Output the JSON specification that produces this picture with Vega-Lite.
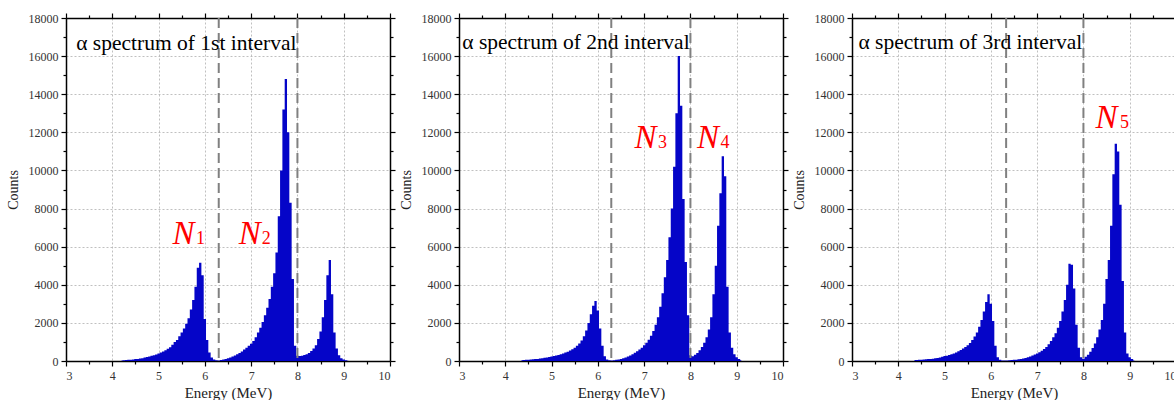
{
  "$schema": "https://vega.github.io/schema/vega-lite/v6.json",
  "padding": {"left": 6, "top": 12, "right": 0, "bottom": 0},
  "background": "white",
  "config": {
    "view": {"stroke": null},
    "axis": {
      "domainColor": "#000", "domainWidth": 1.5, "tickColor": "#000", "tickWidth": 1.2,
      "gridColor": "#b0b0b0", "gridDash": [2, 2], "gridWidth": 0.8
    }
  },
  "datasets": {
    "p1": [
      {"e":4.20,"c":30},{"e":4.25,"c":40},{"e":4.30,"c":50},{"e":4.35,"c":60},{"e":4.40,"c":70},{"e":4.45,"c":80},{"e":4.50,"c":100},{"e":4.55,"c":110},{"e":4.60,"c":130},{"e":4.65,"c":150},{"e":4.70,"c":180},{"e":4.75,"c":210},{"e":4.80,"c":240},{"e":4.85,"c":270},{"e":4.90,"c":300},{"e":4.95,"c":340},{"e":5.00,"c":400},{"e":5.05,"c":440},{"e":5.10,"c":500},{"e":5.15,"c":560},{"e":5.20,"c":640},{"e":5.25,"c":720},{"e":5.30,"c":850},{"e":5.35,"c":1000},{"e":5.40,"c":1100},{"e":5.45,"c":1300},{"e":5.50,"c":1500},{"e":5.55,"c":1700},{"e":5.60,"c":1950},{"e":5.65,"c":2250},{"e":5.70,"c":2700},{"e":5.75,"c":3200},{"e":5.80,"c":3900},{"e":5.85,"c":4900},{"e":5.90,"c":5150},{"e":5.95,"c":4500},{"e":6.00,"c":2200},{"e":6.05,"c":1100},{"e":6.10,"c":450},{"e":6.15,"c":180},{"e":6.20,"c":80},{"e":6.25,"c":40},{"e":6.30,"c":20},{"e":6.35,"c":50},{"e":6.40,"c":80},{"e":6.45,"c":110},{"e":6.50,"c":150},{"e":6.55,"c":190},{"e":6.60,"c":230},{"e":6.65,"c":290},{"e":6.70,"c":350},{"e":6.75,"c":420},{"e":6.80,"c":500},{"e":6.85,"c":600},{"e":6.90,"c":700},{"e":6.95,"c":800},{"e":7.00,"c":900},{"e":7.05,"c":1050},{"e":7.10,"c":1250},{"e":7.15,"c":1500},{"e":7.20,"c":1750},{"e":7.25,"c":2050},{"e":7.30,"c":2400},{"e":7.35,"c":2800},{"e":7.40,"c":3250},{"e":7.45,"c":3900},{"e":7.50,"c":4600},{"e":7.55,"c":5700},{"e":7.60,"c":7600},{"e":7.65,"c":10000},{"e":7.70,"c":13200},{"e":7.75,"c":14800},{"e":7.80,"c":12000},{"e":7.85,"c":8300},{"e":7.90,"c":4300},{"e":7.95,"c":800},{"e":8.00,"c":280},{"e":8.05,"c":260},{"e":8.10,"c":280},{"e":8.15,"c":310},{"e":8.20,"c":350},{"e":8.25,"c":420},{"e":8.30,"c":520},{"e":8.35,"c":650},{"e":8.40,"c":820},{"e":8.45,"c":1150},{"e":8.50,"c":1550},{"e":8.55,"c":2300},{"e":8.60,"c":3200},{"e":8.65,"c":4500},{"e":8.70,"c":5300},{"e":8.75,"c":3500},{"e":8.80,"c":1500},{"e":8.85,"c":650},{"e":8.90,"c":300},{"e":8.95,"c":150},{"e":9.00,"c":80},{"e":9.05,"c":40},{"e":9.10,"c":10}
    ],
    "p2": [
      {"e":4.35,"c":40},{"e":4.40,"c":50},{"e":4.45,"c":60},{"e":4.50,"c":70},{"e":4.55,"c":80},{"e":4.60,"c":90},{"e":4.65,"c":100},{"e":4.70,"c":110},{"e":4.75,"c":130},{"e":4.80,"c":150},{"e":4.85,"c":170},{"e":4.90,"c":190},{"e":4.95,"c":210},{"e":5.00,"c":240},{"e":5.05,"c":260},{"e":5.10,"c":290},{"e":5.15,"c":320},{"e":5.20,"c":360},{"e":5.25,"c":400},{"e":5.30,"c":440},{"e":5.35,"c":490},{"e":5.40,"c":550},{"e":5.45,"c":620},{"e":5.50,"c":700},{"e":5.55,"c":800},{"e":5.60,"c":920},{"e":5.65,"c":1080},{"e":5.70,"c":1300},{"e":5.75,"c":1600},{"e":5.80,"c":2000},{"e":5.85,"c":2450},{"e":5.90,"c":2900},{"e":5.95,"c":3150},{"e":6.00,"c":2650},{"e":6.05,"c":1700},{"e":6.10,"c":800},{"e":6.15,"c":250},{"e":6.20,"c":80},{"e":6.25,"c":40},{"e":6.30,"c":30},{"e":6.35,"c":40},{"e":6.40,"c":60},{"e":6.45,"c":80},{"e":6.50,"c":110},{"e":6.55,"c":140},{"e":6.60,"c":180},{"e":6.65,"c":230},{"e":6.70,"c":290},{"e":6.75,"c":360},{"e":6.80,"c":430},{"e":6.85,"c":510},{"e":6.90,"c":600},{"e":6.95,"c":700},{"e":7.00,"c":820},{"e":7.05,"c":960},{"e":7.10,"c":1120},{"e":7.15,"c":1320},{"e":7.20,"c":1580},{"e":7.25,"c":1900},{"e":7.30,"c":2300},{"e":7.35,"c":2850},{"e":7.40,"c":3550},{"e":7.45,"c":4400},{"e":7.50,"c":5300},{"e":7.55,"c":6500},{"e":7.60,"c":8000},{"e":7.65,"c":10200},{"e":7.70,"c":13000},{"e":7.75,"c":16000},{"e":7.80,"c":13400},{"e":7.85,"c":8500},{"e":7.90,"c":5200},{"e":7.95,"c":2400},{"e":8.00,"c":300},{"e":8.05,"c":250},{"e":8.10,"c":330},{"e":8.15,"c":420},{"e":8.20,"c":560},{"e":8.25,"c":740},{"e":8.30,"c":960},{"e":8.35,"c":1250},{"e":8.40,"c":1650},{"e":8.45,"c":2300},{"e":8.50,"c":3500},{"e":8.55,"c":5000},{"e":8.60,"c":7100},{"e":8.65,"c":8800},{"e":8.70,"c":10750},{"e":8.75,"c":9700},{"e":8.80,"c":3900},{"e":8.85,"c":1500},{"e":8.90,"c":700},{"e":8.95,"c":350},{"e":9.00,"c":200},{"e":9.05,"c":100},{"e":9.10,"c":40}
    ],
    "p3": [
      {"e":4.35,"c":50},{"e":4.40,"c":55},{"e":4.45,"c":60},{"e":4.50,"c":70},{"e":4.55,"c":80},{"e":4.60,"c":90},{"e":4.65,"c":100},{"e":4.70,"c":110},{"e":4.75,"c":120},{"e":4.80,"c":140},{"e":4.85,"c":160},{"e":4.90,"c":180},{"e":4.95,"c":220},{"e":5.00,"c":260},{"e":5.05,"c":280},{"e":5.10,"c":310},{"e":5.15,"c":350},{"e":5.20,"c":400},{"e":5.25,"c":450},{"e":5.30,"c":510},{"e":5.35,"c":580},{"e":5.40,"c":660},{"e":5.45,"c":740},{"e":5.50,"c":830},{"e":5.55,"c":950},{"e":5.60,"c":1100},{"e":5.65,"c":1280},{"e":5.70,"c":1500},{"e":5.75,"c":1800},{"e":5.80,"c":2150},{"e":5.85,"c":2600},{"e":5.90,"c":3100},{"e":5.95,"c":3500},{"e":6.00,"c":3000},{"e":6.05,"c":2100},{"e":6.10,"c":800},{"e":6.15,"c":200},{"e":6.20,"c":60},{"e":6.25,"c":30},{"e":6.30,"c":20},{"e":6.35,"c":30},{"e":6.40,"c":40},{"e":6.45,"c":50},{"e":6.50,"c":60},{"e":6.55,"c":70},{"e":6.60,"c":90},{"e":6.65,"c":110},{"e":6.70,"c":130},{"e":6.75,"c":160},{"e":6.80,"c":200},{"e":6.85,"c":240},{"e":6.90,"c":290},{"e":6.95,"c":340},{"e":7.00,"c":400},{"e":7.05,"c":460},{"e":7.10,"c":540},{"e":7.15,"c":630},{"e":7.20,"c":740},{"e":7.25,"c":880},{"e":7.30,"c":1050},{"e":7.35,"c":1250},{"e":7.40,"c":1450},{"e":7.45,"c":1750},{"e":7.50,"c":2100},{"e":7.55,"c":2600},{"e":7.60,"c":3200},{"e":7.65,"c":4000},{"e":7.70,"c":5100},{"e":7.75,"c":5050},{"e":7.80,"c":3800},{"e":7.85,"c":1900},{"e":7.90,"c":700},{"e":7.95,"c":200},{"e":8.00,"c":120},{"e":8.05,"c":220},{"e":8.10,"c":330},{"e":8.15,"c":480},{"e":8.20,"c":680},{"e":8.25,"c":920},{"e":8.30,"c":1250},{"e":8.35,"c":1650},{"e":8.40,"c":2150},{"e":8.45,"c":3000},{"e":8.50,"c":4300},{"e":8.55,"c":5300},{"e":8.60,"c":7100},{"e":8.65,"c":9800},{"e":8.70,"c":11400},{"e":8.75,"c":11000},{"e":8.80,"c":8200},{"e":8.85,"c":4200},{"e":8.90,"c":1500},{"e":8.95,"c":400},{"e":9.00,"c":200},{"e":9.05,"c":100},{"e":9.10,"c":30}
    ]
  },
  "hconcat": [
    {
      "width": 324, "height": 343,
      "resolve": {"axis": {"x": "independent", "y": "independent"}},
      "layer": [
        {"data": {"name": "p1"}, "mark": {"type": "area", "interpolate": "step", "color": "#0505C8"},
         "encoding": {
           "x": {"field": "e", "type": "quantitative", "scale": {"domain": [3, 10], "nice": false},
             "axis": {"title": "Energy (MeV)", "values": [3,3.5,4,4.5,5,5.5,6,6.5,7,7.5,8,8.5,9,9.5,10], "labelExpr": "datum.value % 1 === 0 ? format(datum.value, 'd') : ''", "tickSize": {"condition": {"test": "datum.value % 1 !== 0", "value": 3}, "value": 5}, "gridOpacity": {"condition": {"test": "datum.value % 1 !== 0", "value": 0}, "value": 1}, "labelPadding": 4, "titlePadding": 4, "labelFont": "Liberation Serif", "labelFontSize": 12, "labelColor": "#333", "titleFont": "Liberation Serif", "titleFontSize": 15, "titleFontWeight": "normal", "titleColor": "#222"}},
           "y": {"field": "c", "type": "quantitative", "scale": {"domain": [0, 18000], "nice": false},
             "axis": {"title": "Counts", "values": [0,1000,2000,3000,4000,5000,6000,7000,8000,9000,10000,11000,12000,13000,14000,15000,16000,17000,18000], "labelExpr": "datum.value % 2000 === 0 ? format(datum.value, 'd') : ''", "tickSize": {"condition": {"test": "datum.value % 2000 !== 0", "value": 3}, "value": 5}, "gridOpacity": {"condition": {"test": "datum.value % 2000 !== 0", "value": 0}, "value": 1}, "labelPadding": 3, "titlePadding": 8, "labelFont": "Liberation Serif", "labelFontSize": 12, "labelColor": "#333", "titleFont": "Liberation Serif", "titleFontSize": 14, "titleFontWeight": "normal", "titleColor": "#222"}}
         }},
        {"data": {"values": [{"e": 6.3}, {"e": 8.0}]}, "mark": {"type": "rule", "color": "#808080", "strokeDash": [10, 5], "strokeWidth": 2},
         "encoding": {"x": {"field": "e", "type": "quantitative", "axis": {"orient": "top", "title": null, "labels": false, "grid": false, "values": [3,3.5,4,4.5,5,5.5,6,6.5,7,7.5,8,8.5,9,9.5,10], "tickSize": {"condition": {"test": "datum.value % 1 !== 0", "value": 3}, "value": 5}}}}},
        {"data": {"values": [{"e": 3.22, "c": 16340, "t": "α spectrum of 1st interval"}]}, "mark": {"type": "text", "align": "left", "baseline": "alphabetic", "font": "Liberation Serif", "fontSize": 21.5, "color": "#000"},
         "encoding": {"x": {"field": "e", "type": "quantitative", "axis": null}, "y": {"field": "c", "type": "quantitative", "axis": {"orient": "right", "title": null, "labels": false, "grid": false, "values": [0,1000,2000,3000,4000,5000,6000,7000,8000,9000,10000,11000,12000,13000,14000,15000,16000,17000,18000], "tickSize": {"condition": {"test": "datum.value % 2000 !== 0", "value": 3}, "value": 5}}}, "text": {"field": "t"}}},
        {"data": {"values": [{"e": 5.54, "c": 6120, "t": "N"}, {"e": 6.97, "c": 6120, "t": "N"}]}, "mark": {"type": "text", "align": "center", "baseline": "alphabetic", "font": "Liberation Serif", "fontStyle": "italic", "fontSize": 33, "color": "#FF0000"},
         "encoding": {"x": {"field": "e", "type": "quantitative", "axis": null}, "y": {"field": "c", "type": "quantitative", "axis": null}, "text": {"field": "t"}}},
        {"data": {"values": [{"e": 5.81, "c": 6120, "t": "1"}, {"e": 7.23, "c": 6120, "t": "2"}]}, "mark": {"type": "text", "align": "left", "baseline": "alphabetic", "font": "Liberation Serif", "fontSize": 18, "color": "#FF0000"},
         "encoding": {"x": {"field": "e", "type": "quantitative", "axis": null}, "y": {"field": "c", "type": "quantitative", "axis": null}, "text": {"field": "t"}}}
      ]
    },
    {
      "width": 324, "height": 343,
      "resolve": {"axis": {"x": "independent", "y": "independent"}},
      "layer": [
        {"data": {"name": "p2"}, "mark": {"type": "area", "interpolate": "step", "color": "#0505C8"},
         "encoding": {
           "x": {"field": "e", "type": "quantitative", "scale": {"domain": [3, 10], "nice": false},
             "axis": {"title": "Energy (MeV)", "values": [3,3.5,4,4.5,5,5.5,6,6.5,7,7.5,8,8.5,9,9.5,10], "labelExpr": "datum.value % 1 === 0 ? format(datum.value, 'd') : ''", "tickSize": {"condition": {"test": "datum.value % 1 !== 0", "value": 3}, "value": 5}, "gridOpacity": {"condition": {"test": "datum.value % 1 !== 0", "value": 0}, "value": 1}, "labelPadding": 4, "titlePadding": 4, "labelFont": "Liberation Serif", "labelFontSize": 12, "labelColor": "#333", "titleFont": "Liberation Serif", "titleFontSize": 15, "titleFontWeight": "normal", "titleColor": "#222"}},
           "y": {"field": "c", "type": "quantitative", "scale": {"domain": [0, 18000], "nice": false},
             "axis": {"title": "Counts", "values": [0,1000,2000,3000,4000,5000,6000,7000,8000,9000,10000,11000,12000,13000,14000,15000,16000,17000,18000], "labelExpr": "datum.value % 2000 === 0 ? format(datum.value, 'd') : ''", "tickSize": {"condition": {"test": "datum.value % 2000 !== 0", "value": 3}, "value": 5}, "gridOpacity": {"condition": {"test": "datum.value % 2000 !== 0", "value": 0}, "value": 1}, "labelPadding": 3, "titlePadding": 8, "labelFont": "Liberation Serif", "labelFontSize": 12, "labelColor": "#333", "titleFont": "Liberation Serif", "titleFontSize": 14, "titleFontWeight": "normal", "titleColor": "#222"}}
         }},
        {"data": {"values": [{"e": 6.29}, {"e": 8.0}]}, "mark": {"type": "rule", "color": "#808080", "strokeDash": [10, 5], "strokeWidth": 2},
         "encoding": {"x": {"field": "e", "type": "quantitative", "axis": {"orient": "top", "title": null, "labels": false, "grid": false, "values": [3,3.5,4,4.5,5,5.5,6,6.5,7,7.5,8,8.5,9,9.5,10], "tickSize": {"condition": {"test": "datum.value % 1 !== 0", "value": 3}, "value": 5}}}}},
        {"data": {"values": [{"e": 3.07, "c": 16370, "t": "α spectrum of 2nd interval"}]}, "mark": {"type": "text", "align": "left", "baseline": "alphabetic", "font": "Liberation Serif", "fontSize": 21.5, "color": "#000"},
         "encoding": {"x": {"field": "e", "type": "quantitative", "axis": null}, "y": {"field": "c", "type": "quantitative", "axis": {"orient": "right", "title": null, "labels": false, "grid": false, "values": [0,1000,2000,3000,4000,5000,6000,7000,8000,9000,10000,11000,12000,13000,14000,15000,16000,17000,18000], "tickSize": {"condition": {"test": "datum.value % 2000 !== 0", "value": 3}, "value": 5}}}, "text": {"field": "t"}}},
        {"data": {"values": [{"e": 7.03, "c": 11190, "t": "N"}, {"e": 8.38, "c": 11190, "t": "N"}]}, "mark": {"type": "text", "align": "center", "baseline": "alphabetic", "font": "Liberation Serif", "fontStyle": "italic", "fontSize": 33, "color": "#FF0000"},
         "encoding": {"x": {"field": "e", "type": "quantitative", "axis": null}, "y": {"field": "c", "type": "quantitative", "axis": null}, "text": {"field": "t"}}},
        {"data": {"values": [{"e": 7.3, "c": 11190, "t": "3"}, {"e": 8.65, "c": 11190, "t": "4"}]}, "mark": {"type": "text", "align": "left", "baseline": "alphabetic", "font": "Liberation Serif", "fontSize": 18, "color": "#FF0000"},
         "encoding": {"x": {"field": "e", "type": "quantitative", "axis": null}, "y": {"field": "c", "type": "quantitative", "axis": null}, "text": {"field": "t"}}}
      ]
    },
    {
      "width": 324, "height": 343,
      "resolve": {"axis": {"x": "independent", "y": "independent"}},
      "layer": [
        {"data": {"name": "p3"}, "mark": {"type": "area", "interpolate": "step", "color": "#0505C8"},
         "encoding": {
           "x": {"field": "e", "type": "quantitative", "scale": {"domain": [3, 10], "nice": false},
             "axis": {"title": "Energy (MeV)", "values": [3,3.5,4,4.5,5,5.5,6,6.5,7,7.5,8,8.5,9,9.5,10], "labelExpr": "datum.value % 1 === 0 ? format(datum.value, 'd') : ''", "tickSize": {"condition": {"test": "datum.value % 1 !== 0", "value": 3}, "value": 5}, "gridOpacity": {"condition": {"test": "datum.value % 1 !== 0", "value": 0}, "value": 1}, "labelPadding": 4, "titlePadding": 4, "labelFont": "Liberation Serif", "labelFontSize": 12, "labelColor": "#333", "titleFont": "Liberation Serif", "titleFontSize": 15, "titleFontWeight": "normal", "titleColor": "#222"}},
           "y": {"field": "c", "type": "quantitative", "scale": {"domain": [0, 18000], "nice": false},
             "axis": {"title": "Counts", "values": [0,1000,2000,3000,4000,5000,6000,7000,8000,9000,10000,11000,12000,13000,14000,15000,16000,17000,18000], "labelExpr": "datum.value % 2000 === 0 ? format(datum.value, 'd') : ''", "tickSize": {"condition": {"test": "datum.value % 2000 !== 0", "value": 3}, "value": 5}, "gridOpacity": {"condition": {"test": "datum.value % 2000 !== 0", "value": 0}, "value": 1}, "labelPadding": 3, "titlePadding": 8, "labelFont": "Liberation Serif", "labelFontSize": 12, "labelColor": "#333", "titleFont": "Liberation Serif", "titleFontSize": 14, "titleFontWeight": "normal", "titleColor": "#222"}}
         }},
        {"data": {"values": [{"e": 6.33}, {"e": 8.0}]}, "mark": {"type": "rule", "color": "#808080", "strokeDash": [10, 5], "strokeWidth": 2},
         "encoding": {"x": {"field": "e", "type": "quantitative", "axis": {"orient": "top", "title": null, "labels": false, "grid": false, "values": [3,3.5,4,4.5,5,5.5,6,6.5,7,7.5,8,8.5,9,9.5,10], "tickSize": {"condition": {"test": "datum.value % 1 !== 0", "value": 3}, "value": 5}}}}},
        {"data": {"values": [{"e": 3.14, "c": 16370, "t": "α spectrum of 3rd interval"}]}, "mark": {"type": "text", "align": "left", "baseline": "alphabetic", "font": "Liberation Serif", "fontSize": 21.5, "color": "#000"},
         "encoding": {"x": {"field": "e", "type": "quantitative", "axis": null}, "y": {"field": "c", "type": "quantitative", "axis": {"orient": "right", "title": null, "labels": false, "grid": false, "values": [0,1000,2000,3000,4000,5000,6000,7000,8000,9000,10000,11000,12000,13000,14000,15000,16000,17000,18000], "tickSize": {"condition": {"test": "datum.value % 2000 !== 0", "value": 3}, "value": 5}}}, "text": {"field": "t"}}},
        {"data": {"values": [{"e": 8.5, "c": 12230, "t": "N"}]}, "mark": {"type": "text", "align": "center", "baseline": "alphabetic", "font": "Liberation Serif", "fontStyle": "italic", "fontSize": 33, "color": "#FF0000"},
         "encoding": {"x": {"field": "e", "type": "quantitative", "axis": null}, "y": {"field": "c", "type": "quantitative", "axis": null}, "text": {"field": "t"}}},
        {"data": {"values": [{"e": 8.79, "c": 12230, "t": "5"}]}, "mark": {"type": "text", "align": "left", "baseline": "alphabetic", "font": "Liberation Serif", "fontSize": 18, "color": "#FF0000"},
         "encoding": {"x": {"field": "e", "type": "quantitative", "axis": null}, "y": {"field": "c", "type": "quantitative", "axis": null}, "text": {"field": "t"}}}
      ]
    }
  ],
  "spacing": 69,
  "bounds": "flush"
}
